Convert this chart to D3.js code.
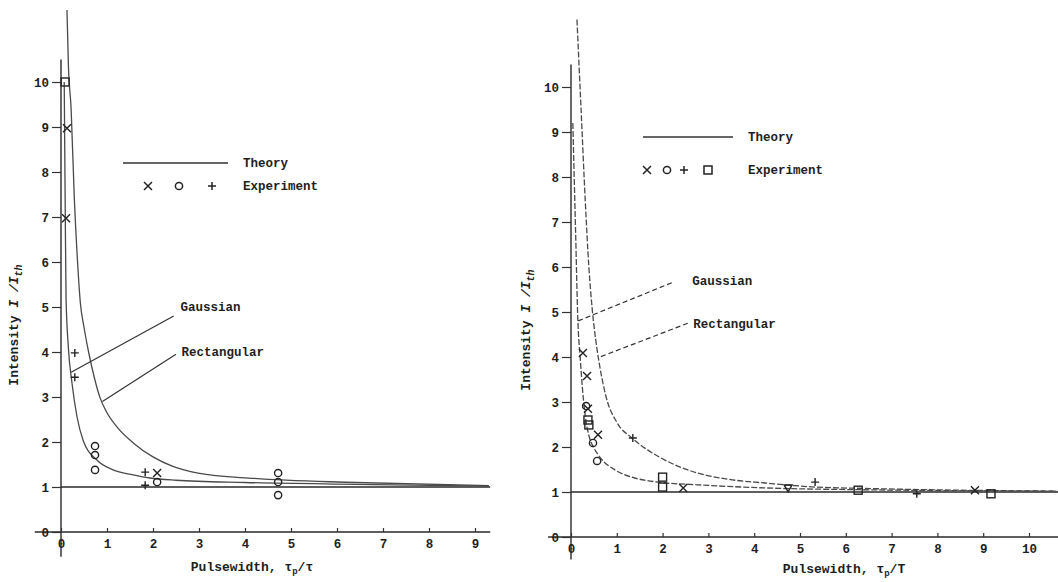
<!DOCTYPE html>
<html>
<head>
<meta charset="utf-8">
<script src="https://cdn.jsdelivr.net/npm/d3@7/dist/d3.min.js"></script>
<style>
  body { margin: 0; background: #fff; }
  text { font-family: "Liberation Mono", "DejaVu Sans Mono", monospace; font-weight: bold; fill: #1e1e1e; }
</style>
</head>
<body>
<svg id="chart" width="1058" height="582"></svg>
<script>
// ---- data ----
var leftXTicks = [0, 1, 2, 3, 4, 5, 6, 7, 8, 9];
var rightXTicks = [0, 1, 2, 3, 4, 5, 6, 7, 8, 9, 10];
var yTicks = [0, 1, 2, 3, 4, 5, 6, 7, 8, 9, 10];

// theory curves, [pulsewidth, intensity]
var leftRect = [[0.13, 11.6], [0.16, 10.4], [0.22, 9.4], [0.29, 7.4], [0.36, 6.0], [0.42, 5.1],
  [0.5, 4.55], [0.6, 4.0], [0.72, 3.45], [0.85, 2.98], [1.0, 2.65], [1.22, 2.33], [1.57, 1.98],
  [2.0, 1.67], [2.43, 1.46], [2.98, 1.31], [4.2, 1.19], [6.4, 1.1], [9.3, 1.03]];
var leftGauss = [[0.07, 10.0], [0.09, 7.4], [0.11, 5.2], [0.16, 4.1], [0.24, 3.3], [0.35, 2.55],
  [0.48, 2.04], [0.78, 1.6], [1.13, 1.38], [1.57, 1.27], [1.93, 1.2], [2.5, 1.15], [4.0, 1.1],
  [6.4, 1.06], [9.3, 1.02]];
var rightRect = [[0.13, 11.5], [0.22, 9.5], [0.31, 7.5], [0.39, 6.0], [0.46, 5.1], [0.57, 4.16],
  [0.63, 3.78], [0.77, 3.1], [1.0, 2.55], [1.33, 2.2], [1.68, 1.93], [2.05, 1.71], [2.77, 1.42],
  [3.52, 1.27], [4.24, 1.2], [5.33, 1.11], [6.4, 1.08], [8.5, 1.04], [10.6, 1.02]];
var rightGauss = [[0.04, 9.2], [0.1, 6.8], [0.15, 4.8], [0.2, 4.0], [0.25, 3.3], [0.31, 2.7],
  [0.4, 2.22], [0.5, 1.98], [0.65, 1.75], [0.96, 1.49], [1.33, 1.33], [1.9, 1.22], [2.77, 1.16],
  [4.24, 1.09], [6.4, 1.05], [10.6, 1.02]];

// experiment points, [pulsewidth, intensity, symbol]
var leftPoints = [[0.09, 10.0, "sq"], [0.13, 8.97, "x"], [0.11, 6.97, "x"], [0.3, 3.98, "+"],
  [0.3, 3.44, "+"], [0.74, 1.91, "o"], [0.74, 1.71, "o"], [0.74, 1.38, "o"], [1.83, 1.33, "+"],
  [2.09, 1.31, "x"], [2.09, 1.11, "o"], [1.83, 1.04, "+"], [4.72, 1.31, "o"], [4.72, 1.11, "o"],
  [4.72, 0.82, "o"]];
var rightPoints = [[0.26, 4.09, "x"], [0.35, 3.58, "x"], [0.33, 2.91, "o"], [0.37, 2.85, "x"],
  [0.37, 2.6, "sq"], [0.39, 2.49, "sq"], [0.59, 2.27, "x"], [0.48, 2.09, "o"], [0.57, 1.69, "o"],
  [1.35, 2.2, "+"], [2.0, 1.33, "sq"], [2.0, 1.11, "sq"], [2.45, 1.09, "x"], [4.74, 1.09, "tri"],
  [5.33, 1.22, "+"], [6.27, 1.04, "sq"], [7.55, 0.96, "+"], [8.82, 1.04, "x"], [9.17, 0.96, "sq"]];

var svg = d3.select("#chart");

var panels = [
  { xr: [61, 475], xd: [0, 9], yr: [532, 82], xt: leftXTicks, xExt: [-0.57, 9.33], yExt: [-0.55, 10.5],
    rect: leftRect, gauss: leftGauss, pts: leftPoints, dash: null, xlabEnd: "τ",
    ylab: [18, 325], xlab: [252, 571],
    gaussLab: [2.6, 5.0], gaussTip: [0.22, 3.55], gaussFrom: [2.45, 4.8],
    rectLab: [2.62, 4.0], rectTip: [0.9, 2.9], rectFrom: [2.5, 3.95],
    legend: { x1: 123, x2: 228, y: 163, tx: 243, my: 186, marks: [[148, "x"], [179, "o"], [212, "+"]] } },
  { xr: [571, 1029], xd: [0, 10], yr: [537, 87], xt: rightXTicks, xExt: [-0.5, 10.7], yExt: [-0.5, 10.5],
    rect: rightRect, gauss: rightGauss, pts: rightPoints, dash: "6,2", xlabEnd: "T",
    ylab: [530, 330], xlab: [844, 573],
    gaussLab: [2.65, 5.7], gaussTip: [0.15, 4.8], gaussFrom: [2.2, 5.65],
    rectLab: [2.67, 4.75], rectTip: [0.63, 4.0], rectFrom: [2.55, 4.75],
    legend: { x1: 643, x2: 733, y: 137, tx: 748, my: 170, marks: [[647, "x"], [667, "o"], [684, "+"], [708, "sq"]] } }
];

function mark(g, px, py, sym) {
  var s = 4;
  if (sym === "x") {
    g.append("path").attr("d", "M" + (px - s) + "," + (py - s) + "L" + (px + s) + "," + (py + s) +
      "M" + (px - s) + "," + (py + s) + "L" + (px + s) + "," + (py - s));
  } else if (sym === "+") {
    g.append("path").attr("d", "M" + (px - s) + "," + py + "L" + (px + s) + "," + py +
      "M" + px + "," + (py - s) + "L" + px + "," + (py + s));
  } else if (sym === "o") {
    g.append("circle").attr("cx", px).attr("cy", py).attr("r", 3.6);
  } else if (sym === "sq") {
    g.append("rect").attr("x", px - 4).attr("y", py - 4).attr("width", 8).attr("height", 8);
  } else if (sym === "tri") {
    g.append("path").attr("d", "M" + (px - 4) + "," + (py - 3) + "L" + (px + 4) + "," + (py - 3) +
      "L" + px + "," + (py + 4) + "Z");
  }
}

panels.forEach(function(p) {
  var x = d3.scaleLinear().domain(p.xd).range(p.xr);
  var y = d3.scaleLinear().domain([0, 10]).range(p.yr);
  var g = svg.append("g");

  // axes lines
  g.append("line").attr("x1", x(p.xExt[0])).attr("x2", x(p.xExt[1]))
    .attr("y1", y(0)).attr("y2", y(0)).attr("stroke", "#2a2a2a").attr("stroke-width", 1.6);
  g.append("line").attr("x1", x(0)).attr("x2", x(0))
    .attr("y1", y(p.yExt[0])).attr("y2", y(p.yExt[1])).attr("stroke", "#2a2a2a").attr("stroke-width", 1.4);
  // threshold line I/Ith = 1
  g.append("line").attr("x1", x(0)).attr("x2", x(p.xExt[1]))
    .attr("y1", y(1)).attr("y2", y(1)).attr("stroke", "#2a2a2a").attr("stroke-width", 1.4);

  // ticks
  var yAx = d3.axisLeft(y).tickValues(yTicks).tickSize(9).tickPadding(3).tickFormat(d3.format("d"));
  var ya = g.append("g").attr("transform", "translate(" + x(0) + ",0)").call(yAx);
  ya.select(".domain").remove();
  ya.selectAll("line").attr("stroke", "#333").attr("stroke-width", 1.2);
  ya.selectAll("text").style("font-size", "12.5px").attr("fill", "#1e1e1e");

  var xAx = d3.axisBottom(x).tickValues(p.xt).tickSize(-4).tickPadding(7).tickFormat(d3.format("d"));
  var xa = g.append("g").attr("transform", "translate(0," + y(0) + ")").call(xAx);
  xa.select(".domain").remove();
  xa.selectAll("line").attr("stroke", "#333").attr("stroke-width", 1.2);
  xa.selectAll("text").style("font-size", "12.5px").attr("fill", "#1e1e1e");

  // theory curves
  var line = d3.line().x(function(d) { return x(d[0]); }).y(function(d) { return y(d[1]); })
    .curve(d3.curveMonotoneX);
  [p.rect, p.gauss].forEach(function(c) {
    g.append("path").datum(c).attr("d", line).attr("fill", "none")
      .attr("stroke", "#4a4a4a").attr("stroke-width", 1.3)
      .attr("stroke-dasharray", p.dash);
  });

  // leader lines and curve names
  [[p.gaussFrom, p.gaussTip, p.gaussLab, "Gaussian"], [p.rectFrom, p.rectTip, p.rectLab, "Rectangular"]]
    .forEach(function(a) {
      g.append("line").attr("x1", x(a[0][0])).attr("y1", y(a[0][1]))
        .attr("x2", x(a[1][0])).attr("y2", y(a[1][1]))
        .attr("stroke", "#333").attr("stroke-width", 1.2).attr("stroke-dasharray", p.dash ? "5,3" : null);
      g.append("text").attr("x", x(a[2][0])).attr("y", y(a[2][1])).attr("dy", "0.35em")
        .style("font-size", "12.5px").text(a[3]);
    });

  // experiment markers
  var mg = g.append("g").attr("fill", "none").attr("stroke", "#222").attr("stroke-width", 1.4);
  p.pts.forEach(function(d) { mark(mg, x(d[0]), y(d[1]), d[2]); });

  // legend
  var L = p.legend;
  g.append("line").attr("x1", L.x1).attr("x2", L.x2).attr("y1", L.y).attr("y2", L.y)
    .attr("stroke", "#333").attr("stroke-width", 1.6);
  g.append("text").attr("x", L.tx).attr("y", L.y).attr("dy", "0.35em").style("font-size", "12.5px").text("Theory");
  g.append("text").attr("x", L.tx).attr("y", L.my).attr("dy", "0.35em").style("font-size", "12.5px").text("Experiment");
  var lg = g.append("g").attr("fill", "none").attr("stroke", "#222").attr("stroke-width", 1.5);
  L.marks.forEach(function(m) { mark(lg, m[0], L.my, m[1]); });

  // axis titles
  var yl = g.append("text").attr("transform", "translate(" + p.ylab[0] + "," + p.ylab[1] + ") rotate(-90)")
    .attr("text-anchor", "middle").style("font-size", "13px");
  yl.append("tspan").text("Intensity  ");
  yl.append("tspan").style("font-style", "italic").text("I /I");
  yl.append("tspan").style("font-style", "italic").style("font-size", "10px").attr("dy", "4").text("th");

  var xl = g.append("text").attr("x", p.xlab[0]).attr("y", p.xlab[1]).attr("text-anchor", "middle")
    .style("font-size", "13px");
  xl.append("tspan").text("Pulsewidth, τ");
  xl.append("tspan").style("font-size", "9px").attr("dy", "3").text("p");
  xl.append("tspan").attr("dy", "-3").text("/" + p.xlabEnd);
});
</script>
</body>
</html>
